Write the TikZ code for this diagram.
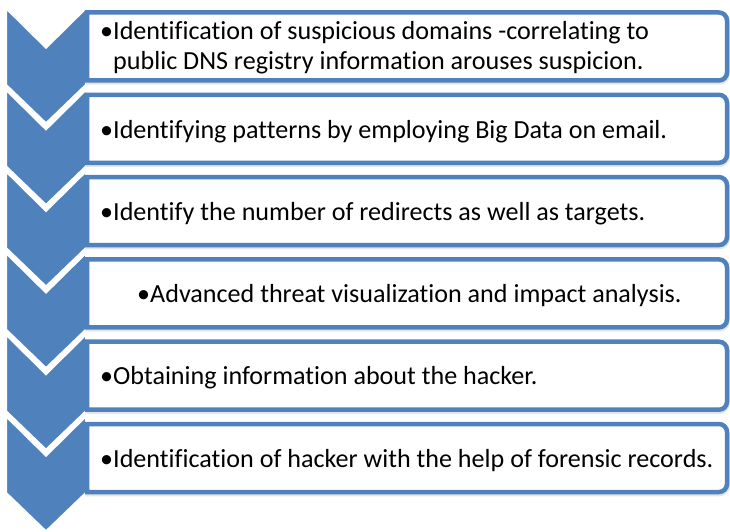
\documentclass[tikz,border=0pt]{standalone}
\usepackage{fontspec}
\setmainfont{Carlito}[Ligatures=NoCommon]
\definecolor{accent}{HTML}{4F81BD}
\begin{document}
\begin{tikzpicture}[x=1pt,y=-1pt,
  chev/.style={fill=accent, draw=white, line width=3pt, line join=miter},
  boxline/.style={draw=accent, fill=white, line width=4.5pt},
  boxshade/.style={draw=black!10, fill=black!10, line width=4.5pt},
  txt/.style={anchor=base west, inner sep=0pt, font=\fontsize{26.1}{30}\selectfont}]
\useasboundingbox (0,0) rectangle (730,532);
% chevrons
\foreach \i in {0,...,5}{
  \pgfmathsetmacro\t{7+81.6*\i}
  \draw[chev] (5.5,\t) -- (46,\t+40) -- (86.5,\t) -- (86.5,\t+78) -- (46,\t+117) -- (5.5,\t+78) -- cycle;
}
% boxes
\foreach \i in {0,...,5}{
  \pgfmathsetmacro\a{12.5+82.3*\i}
  \pgfmathsetmacro\b{\a+68}
  \path[boxshade, shift={(0.5,2)}] (87,\a) -- (719,\a) arc (-90:0:8) -- (727,\b-8) arc (0:90:8) -- (87,\b) -- cycle;
  \path[boxline] (87,\a) -- (719,\a) arc (-90:0:8) -- (727,\b-8) arc (0:90:8) -- (87,\b) -- cycle;
}
% texts
\node[txt] (t1) at (100,40) {•\begin{tabular}[t]{@{}l@{}}Identification of suspicious domains -correlating to\\ public DNS registry information arouses suspicion.\end{tabular}};
\node[txt] (t2) at (100,138) {•Identifying patterns by employing Big Data on email.};
\node[txt] (t3) at (100,220.3) {•Identify the number of redirects as well as targets.};
\node[txt] (t4) at (137,302.6) {•Advanced threat visualization and impact analysis.};
\node[txt] (t5) at (100,384.9) {•Obtaining information about the hacker.};
\node[txt] (t6) at (100,467.2) {•Identification of hacker with the help of forensic records.};
\end{tikzpicture}
\end{document}
